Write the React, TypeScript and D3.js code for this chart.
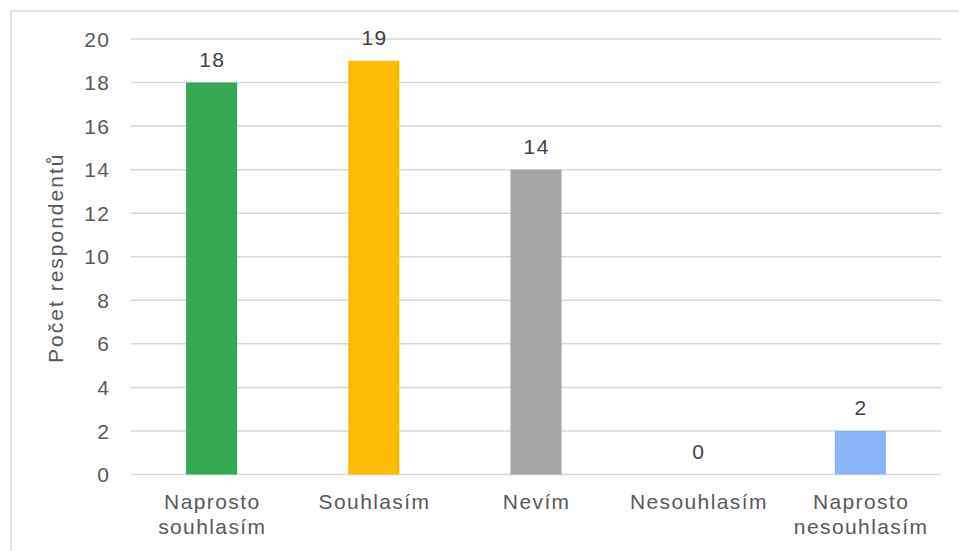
import React from "react";
import * as d3 from "d3";

const categories: string[][] = [
  ["Naprosto", "souhlasím"],
  ["Souhlasím"],
  ["Nevím"],
  ["Nesouhlasím"],
  ["Naprosto", "nesouhlasím"],
];
const values: number[] = [18, 19, 14, 0, 2];
const colors: string[] = ["#34A853", "#FBBC04", "#A5A5A5", "#8AB4F8", "#8AB4F8"];
const yTicks: number[] = [0, 2, 4, 6, 8, 10, 12, 14, 16, 18, 20];
const yTitle = "Počet respondentů";

const W = 959;
const H = 551;
const left = 130.5;
const right = 941.5;
const top = 39;
const bottom = 474.5;
const font = "'Liberation Sans', Arial, sans-serif";
const FS = 21;
const LS = 1.4;

export default function App() {
  const x = d3
    .scaleBand<number>()
    .domain(values.map((_, i) => i))
    .range([left, right])
    .paddingInner(0.685)
    .paddingOuter(0.3425);
  const y = d3.scaleLinear().domain([0, 20]).range([bottom, top]);
  const band = (right - left) / values.length;

  return (
    <svg
      width={W}
      height={H}
      style={{ position: "absolute", left: 0, top: 0, background: "#fff" }}
      fontFamily={font}
    >
      <rect x={11} y={11} width={W + 10} height={H + 10} fill="#fff" stroke="#d9d9d9" strokeWidth={1.5} />
      {yTicks.map((t) => (
        <g key={t}>
          <line x1={left} x2={right} y1={y(t)} y2={y(t)} stroke="#d9d9d9" strokeWidth={1.5} />
          <text
            x={109 + LS}
            y={y(t)}
            dy="0.36em"
            textAnchor="end"
            fontSize={FS}
            letterSpacing={LS}
            fill="#595959"
          >
            {t}
          </text>
        </g>
      ))}
      {values.map((v, i) => {
        const bx = x(i)!;
        const bw = x.bandwidth();
        const cx = left + band * (i + 0.5) + LS / 2;
        return (
          <g key={i}>
            {v > 0 && (
              <rect x={bx} y={y(v)} width={bw} height={y(0) - y(v)} fill={colors[i]} />
            )}
            <text
              x={cx}
              y={y(v) - 16}
              textAnchor="middle"
              fontSize={FS}
              letterSpacing={LS}
              fill="#404040"
            >
              {v}
            </text>
            {categories[i].map((line, j) => (
              <text
                key={j}
                x={cx}
                y={509 + j * 25}
                textAnchor="middle"
                fontSize={FS}
                letterSpacing={LS}
                fill="#595959"
              >
                {line}
              </text>
            ))}
          </g>
        );
      })}
      <text
        transform={`translate(63, ${(top + bottom) / 2 + 1}) rotate(-90)`}
        textAnchor="middle"
        fontSize={FS}
        letterSpacing={2}
        fill="#595959"
      >
        {yTitle}
      </text>
    </svg>
  );
}
